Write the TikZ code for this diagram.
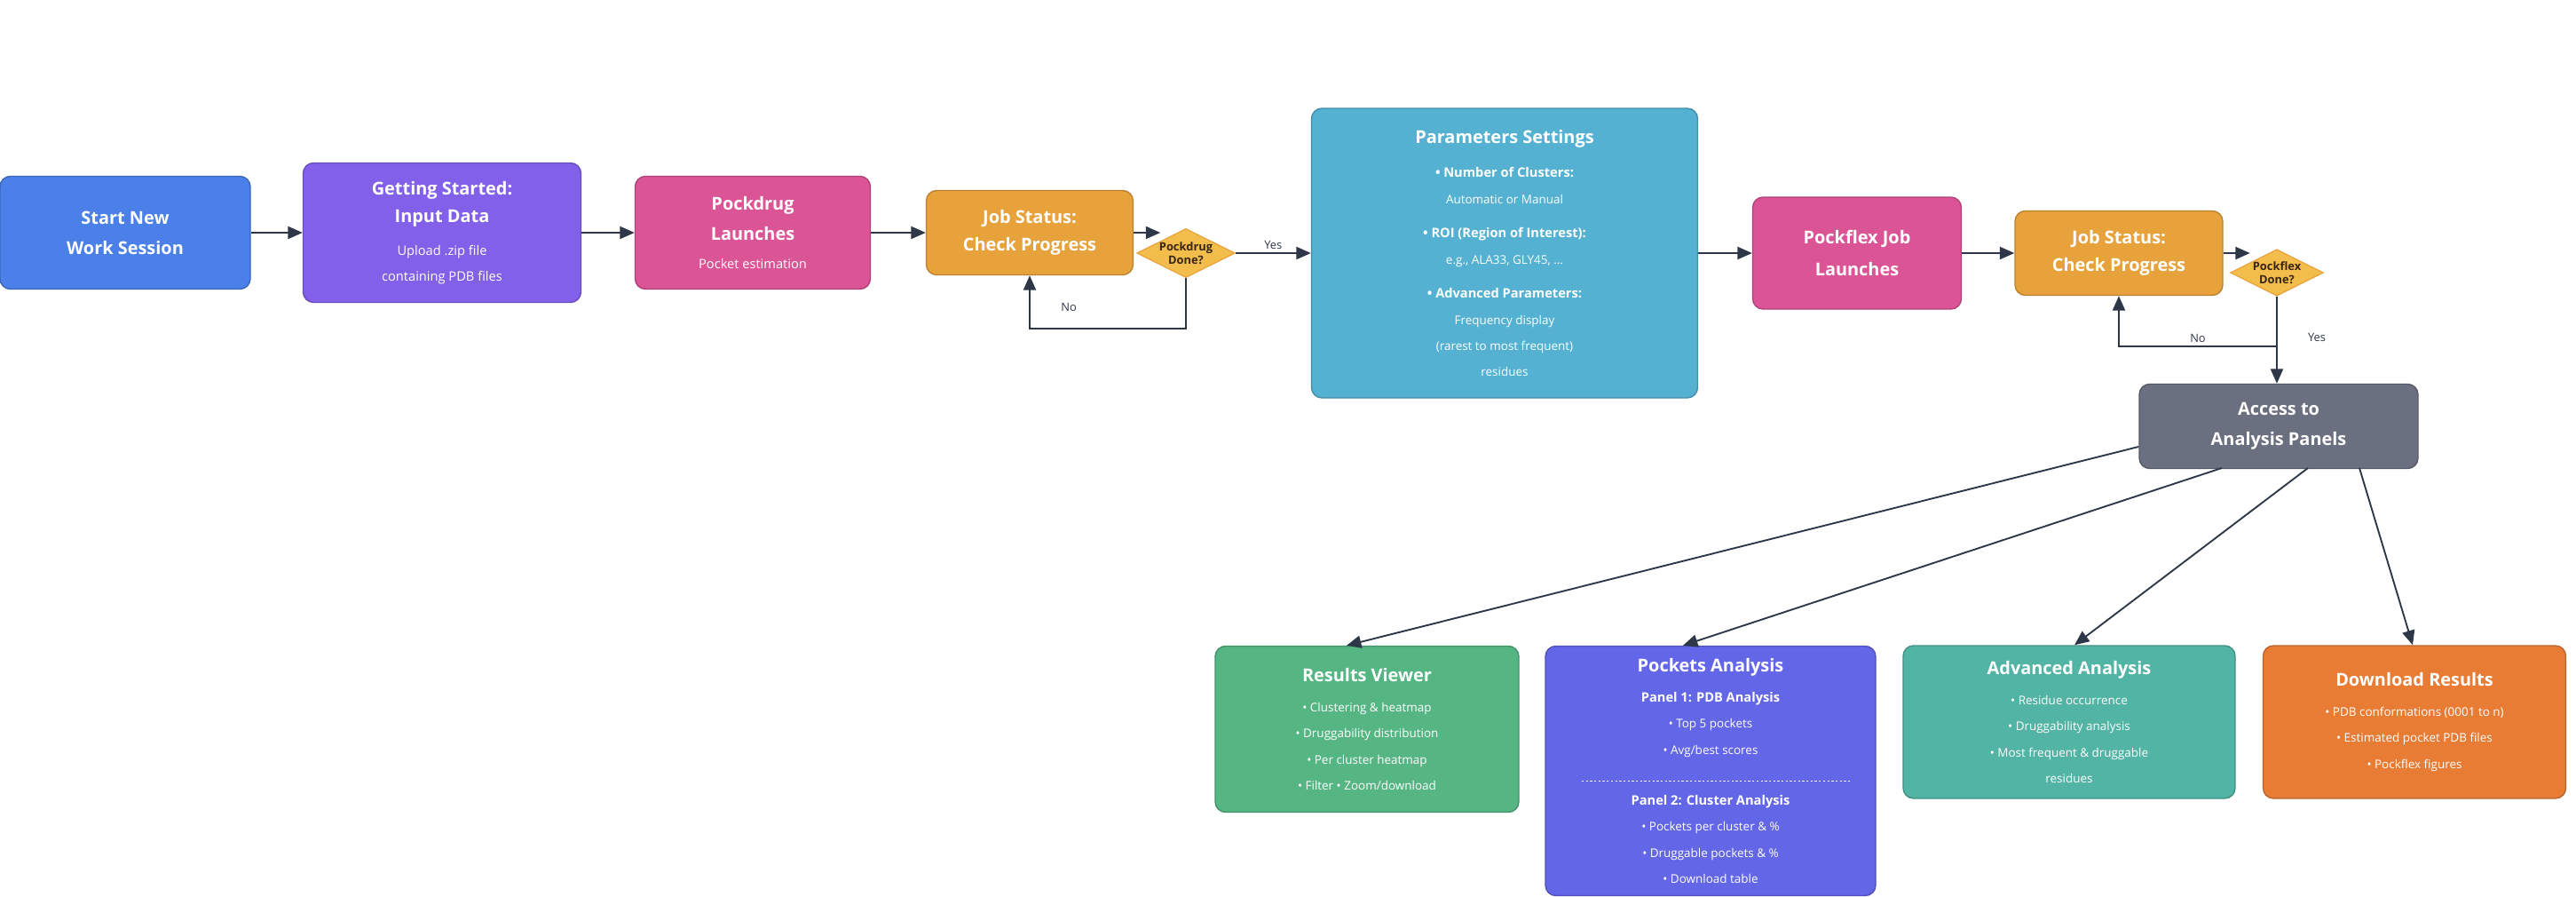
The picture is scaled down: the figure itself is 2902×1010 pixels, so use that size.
\documentclass[tikz,border=0pt]{standalone}
\usepackage{fontspec}
\setmainfont{Open Sans}
\usetikzlibrary{arrows.meta,shapes.geometric}
\definecolor{cStart}{HTML}{4A80E8}
\definecolor{cInput}{HTML}{8360EA}
\definecolor{cPink}{HTML}{DB5495}
\definecolor{cJob}{HTML}{E8A23C}
\definecolor{cDia}{HTML}{F2BD4A}
\definecolor{cParam}{HTML}{54B1D2}
\definecolor{cGray}{HTML}{6B7080}
\definecolor{cGreen}{HTML}{55B683}
\definecolor{cIndigo}{HTML}{6366E6}
\definecolor{cTeal}{HTML}{52B4A4}
\definecolor{cOrange}{HTML}{E87C35}
\definecolor{cLine}{HTML}{2D3748}
\newcommand{\ttl}[1]{{\fontsize{17}{20}\selectfont\bfseries #1}}
\newcommand{\sml}[1]{{\fontsize{12.5}{15}\selectfont #1}}
\newcommand{\tny}[1]{{\fontsize{11.5}{14}\selectfont #1}}

\begin{document}
\begin{tikzpicture}[x=0.3mm,y=-0.3mm]
    \tikzset{sz/.style 2 args = {minimum width=#1*0.3mm, minimum height=#2*0.3mm}}
    \tikzset{box/.style = {draw=#1!80!black, fill=#1, line width=1.2pt, rounded corners=10pt, text=white, align=center, inner sep=0pt, font=\fontsize{12}{25}\selectfont}}
    \tikzset{dia/.style = {shape=diamond, draw=cJob, fill=cDia, line width=1pt, aspect=2, inner sep=0pt, align=center, text=black!70!brown, font=\fontsize{11}{13}\selectfont\bfseries}}
    \tikzset{edge/.style = {draw=cLine, line width=1.6pt, -{Triangle[length=14pt,width=12pt]}}}
    \tikzset{lbl/.style = {text=cLine, font=\fontsize{11}{13}\selectfont}}
    \useasboundingbox (0,0) rectangle (2902,1010);

    % vertices
    \node[box=cStart, sz={282}{127}] (start) at (141,262) {\ttl{Start New}\\[4pt]\ttl{Work Session}};
    \node[box=cInput, sz={313}{157}] (input) at (498,262) {\ttl{Getting Started:}\\[2pt]\ttl{Input Data}\\[6pt]\sml{Upload .zip file}\\\sml{containing PDB files}};
    \node[box=cPink, sz={265}{127}] (pdrug) at (848,262) {\ttl{Pockdrug}\\[4pt]\ttl{Launches}\\[2pt]\sml{Pocket estimation}};
    \node[box=cJob, sz={233}{95}] (job1) at (1160,262) {\ttl{Job Status:}\\[2pt]\ttl{Check Progress}};
    \node[dia, sz={96}{48}] (done1) at (1336,285) {Pockdrug\\Done?};
    \node[box=cParam, sz={435}{326}] (param) at (1695,285) {\ttl{Parameters Settings}\\[8pt]\sml{\textbf{• Number of Clusters:}}\\\tny{Automatic or Manual}\\[8pt]\sml{\textbf{• ROI (Region of Interest):}}\\\tny{e.g., ALA33, GLY45, ...}\\[8pt]\sml{\textbf{• Advanced Parameters:}}\\\tny{Frequency display}\\\tny{(rarest to most frequent)}\\\tny{residues}};
    \node[box=cPink, sz={235}{126}] (pflex) at (2092,285) {\ttl{Pockflex Job}\\[6pt]\ttl{Launches}};
    \node[box=cJob, sz={234}{95}] (job2) at (2387,285) {\ttl{Job Status:}\\[2pt]\ttl{Check Progress}};
    \node[dia, sz={96}{48}] (done2) at (2565,307) {Pockflex\\Done?};
    \node[box=cGray, sz={314}{95}] (access) at (2567,480) {\ttl{Access to}\\[4pt]\ttl{Analysis Panels}};
    \node[box=cGreen, sz={342}{187}] (viewer) at (1540,821) {\ttl{Results Viewer}\\[4pt]\tny{• Clustering \& heatmap}\\\tny{• Druggability distribution}\\\tny{• Per cluster heatmap}\\\tny{• Filter • Zoom/download}};
    \node[box=cIndigo, sz={372}{281}] (pockets) at (1927,868) {\ttl{Pockets Analysis}\\[4pt]\sml{\textbf{Panel 1: PDB Analysis}}\\\tny{• Top 5 pockets}\\\tny{• Avg/best scores}\\[24pt]\sml{\textbf{Panel 2: Cluster Analysis}}\\\tny{• Pockets per cluster \& \%}\\\tny{• Druggable pockets \& \%}\\\tny{• Download table}};
    \node[box=cTeal, sz={374}{172}] (adv) at (2331,813) {\ttl{Advanced Analysis}\\[4pt]\tny{• Residue occurrence}\\\tny{• Druggability analysis}\\\tny{• Most frequent \& druggable}\\\tny{residues}};
    \node[box=cOrange, sz={341}{172}] (dl) at (2720,813) {\ttl{Download Results}\\[4pt]\tny{• PDB conformations (0001 to n)}\\\tny{• Estimated pocket PDB files}\\\tny{• Pockflex figures}};
    \draw[white, line width=0.8pt, dash pattern=on 2pt off 2pt] (1782,879) -- (2085,879);

    % edges
    \draw[edge] (start) -- (input);
    \draw[edge] (input) -- (pdrug);
    \draw[edge] (pdrug) -- (job1);
    \draw[edge] (job1.east) -- ++(30,0);
    \draw[edge] (done1.east) -- node[lbl, above]{Yes} (param.west |- done1.east);
    \draw[edge] (done1.south) |- (1160,370) -- node[lbl, pos=0.4, right=26pt]{No} (job1.south);
    \draw[edge] (param.east |- pflex) -- (pflex);
    \draw[edge] (pflex) -- (job2);
    \draw[edge] (job2.east) -- ++(30,0);
    \draw[edge] (done2.south) |- (2565,390) -- (access.north -| done2.south);
    \node[lbl] (yes2) at (2610,380) {Yes};
    \draw[edge] (2565,390) -| node[lbl, pos=0.25, above]{No} (job2.south);
    \draw[edge] (access.west |- 2405,503) -- (viewer.north -| 1517,727);
    \draw[edge] (2503,527) -- (pockets.north -| 1896,727);
    \draw[edge] (2600,527) -- (adv.north -| 2337,727);
    \draw[edge] (2658,527) -- (dl.north -| 2718,727);
\end{tikzpicture}
\end{document}
